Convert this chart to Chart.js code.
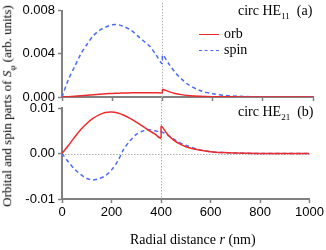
<!DOCTYPE html>
<html>
<head>
<meta charset="utf-8">
<script src="https://cdn.jsdelivr.net/npm/chart.js@4"></script>
<style>
  body { margin: 0; background: #fff; }
  #wrap { position: relative; width: 326px; height: 250px; overflow: hidden; font-family: "Liberation Serif", serif; }
  canvas { position: absolute; left: 0; }
  .txt { position: absolute; white-space: nowrap; color: #000; font-size: 14px; }
  .ytitle { position: absolute; left: 8px; top: 106px; transform: translate(-50%, -50%) rotate(-90deg); white-space: nowrap; font-size: 13px; }
  .leg { position: absolute; width: 20px; height: 0; }
</style>
</head>
<body>
<div id="wrap">
  <canvas id="panelA" width="326" height="110" style="top:0"></canvas>
  <canvas id="panelB" width="326" height="230" style="top:0"></canvas>
  <div class="ytitle">Orbital and spin parts of <i>S</i><sub style="font-size:9px">φ</sub> (arb. units)</div>
  <div class="txt" style="left:238px; top:3px">circ HE<sub style="font-size:9px">11</sub>&nbsp; (a)</div>
  <div class="txt" style="left:238px; top:104px">circ HE<sub style="font-size:9px">21</sub>&nbsp; (b)</div>
  <div class="leg" style="left:199px; top:34px; border-top:1.5px solid #ee2a2a"></div>
  <div class="txt" style="left:224px; top:26px">orb</div>
  <div class="leg" style="left:199px; top:50px; border-top:1.5px dashed #4a6cf7"></div>
  <div class="txt" style="left:224px; top:42px">spin</div>
  <div class="txt" style="left:130px; top:232px">Radial distance <i>r</i> (nm)</div>
</div>
<script>
// radial positions (nm), 399/401 straddle the interface jump
var radius = [0, 25, 50, 75, 100, 125, 150, 175, 200, 225, 250, 275, 300, 325, 350, 375, 399, 401, 425, 450, 475, 500, 550, 600, 650, 700, 800, 900, 1000];

// panel (a) circ HE11
var orbA  = [0, 0.00003, 0.00007, 0.00012, 0.00017, 0.00022, 0.00026, 0.0003, 0.00033, 0.00035, 0.00037, 0.00039, 0.0004, 0.0004, 0.0004, 0.0004, 0.0004, 0.0007, 0.0005, 0.00033, 0.00022, 0.00015, 0.00007, 0.00003, 0.00002, 0.00001, 0, 0, 0];
var spinA = [0, 0.0016, 0.0028, 0.004, 0.0049, 0.0057, 0.0062, 0.0065, 0.0067, 0.0067, 0.0065, 0.0062, 0.0057, 0.0052, 0.0047, 0.0039, 0.0031, 0.0039, 0.0031, 0.0023, 0.0017, 0.0012, 0.0006, 0.0003, 0.00015, 0.00007, 0.00001, 0, 0];

// panel (b) circ HE21
var orbB  = [0, 0.0017, 0.0035, 0.0052, 0.0066, 0.0077, 0.0085, 0.009, 0.0091, 0.0089, 0.0084, 0.0077, 0.0069, 0.006, 0.0051, 0.0043, 0.0034, 0.006, 0.0043, 0.003, 0.0021, 0.0015, 0.0008, 0.0004, 0.0002, 0.0001, 0.00002, 0, 0];
var spinB = [0, -0.0018, -0.0034, -0.0046, -0.0055, -0.0058, -0.0055, -0.0049, -0.0036, -0.0017, 0.001, 0.0028, 0.0042, 0.0049, 0.0052, 0.005, 0.0047, 0.0048, 0.0041, 0.0032, 0.0024, 0.0018, 0.0009, 0.0004, 0.0002, 0.0001, 0, 0, 0];

var ticksA = [0, 0.004, 0.008];
var ticksB = [-0.01, 0, 0.01];
var ticksX = [0, 200, 400, 600, 800, 1000];

var red = '#ee2a2a';
var blue = '#4a6cf7';
var axisGrey = '#808080';

function pts(vals) {
    return radius.map(function(r, i) { return { x: r, y: vals[i] }; });
}

// dotted reference lines at r = 400 and at zero
var guides = {
    id: 'guides',
    beforeDatasetsDraw: function(chart) {
        var ctx = chart.ctx, a = chart.chartArea;
        var xs = chart.scales.x, ys = chart.scales.y;
        ctx.save();
        ctx.strokeStyle = '#b0b0b0';
        ctx.lineWidth = 1;
        ctx.setLineDash([1.5, 1.5]);
        var px = Math.round(xs.getPixelForValue(400)) + 0.5;
        ctx.beginPath();
        ctx.moveTo(px, a.top - (chart.options.extendTop || 0));
        ctx.lineTo(px, a.bottom);
        ctx.stroke();
        if (ys.min < 0) {
            var py = Math.round(ys.getPixelForValue(0)) + 0.5;
            ctx.beginPath();
            ctx.moveTo(a.left, py);
            ctx.lineTo(a.right, py);
            ctx.stroke();
        }
        ctx.restore();
    }
};

function makePanel(id, orb, spin, yMin, yMax, yTicks, fmt, showX, padTop, areaLeft, areaBottom, extendTop) {
    return new Chart(document.getElementById(id).getContext('2d'), {
        type: 'line',
        data: {
            datasets: [
                { label: 'orb', data: pts(orb), borderColor: red, borderWidth: 1.5, pointRadius: 0, tension: 0.3, fill: false },
                { label: 'spin', data: pts(spin), borderColor: blue, borderWidth: 1.5, borderDash: [4, 3], pointRadius: 0, tension: 0.3, fill: false }
            ]
        },
        options: {
            responsive: false,
            animation: false,
            extendTop: extendTop,
            layout: { padding: { top: padTop, right: 13, left: 0, bottom: 0 } },
            plugins: { legend: { display: false }, tooltip: { enabled: false } },
            scales: {
                x: {
                    type: 'linear', min: 0, max: 1000,
                    afterBuildTicks: function(s) { s.ticks = ticksX.map(function(v) { return { value: v }; }); },
                    grid: { drawOnChartArea: false, tickLength: 4, tickColor: axisGrey, tickWidth: 1.5 },
                    border: { color: axisGrey, width: 2 },
                    ticks: { display: showX, color: '#000', padding: 2, maxRotation: 0, callback: function(v) { return String(v); }, font: { family: 'Liberation Sans', size: 13 } },
                    afterFit: function(s) { s.height = areaBottom; }
                },
                y: {
                    min: yMin, max: yMax,
                    afterBuildTicks: function(s) { s.ticks = yTicks.map(function(v) { return { value: v }; }); },
                    grid: { drawOnChartArea: false, tickLength: 4, tickColor: axisGrey, tickWidth: 1.5 },
                    border: { color: axisGrey, width: 2 },
                    ticks: { color: '#000', padding: 3, callback: fmt, font: { family: 'Liberation Sans', size: 13 } },
                    afterFit: function(s) { s.width = areaLeft; }
                }
            }
        },
        plugins: [guides]
    });
}

makePanel('panelA', orbA, spinA, 0, 0.008, ticksA, function(v) { return v.toFixed(3); }, false, 0, 62, 13, 8);
makePanel('panelB', orbB, spinB, -0.01, 0.01, ticksB, function(v) { return v.toFixed(2); }, true, 108, 62, 31, 11);
</script>
</body>
</html>
